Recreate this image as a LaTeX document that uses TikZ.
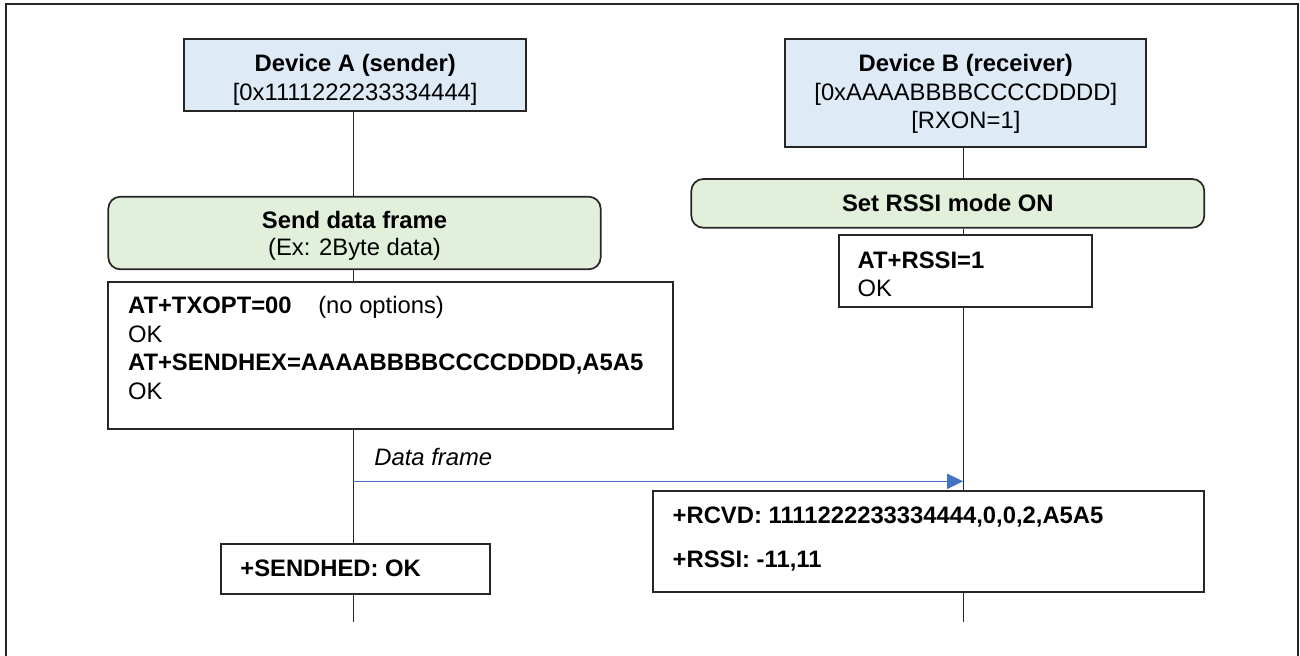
\documentclass[tikz,border=0pt]{standalone}
\usepackage{fontspec}
\setmainfont{Liberation Sans}
\usetikzlibrary{arrows.meta,fit}

\definecolor{devblue}{HTML}{DEEBF7}
\definecolor{stepgreen}{HTML}{E2EFDA}
\definecolor{msgblue}{HTML}{4472C4}
\definecolor{edge}{HTML}{262626}

\tikzset{
  box/.style      = {draw=edge, line width=0.85pt, inner sep=0pt},
  devbox/.style   = {box, fill=devblue},
  stepbox/.style  = {box, fill=stepgreen, rounded corners=6pt},
  cmdbox/.style   = {box, fill=white},
  txt/.style      = {inner sep=0pt, font=\fontsize{11.9}{14.2}\selectfont},
  life/.style     = {draw=edge, line width=0.75pt},
  msg/.style      = {draw=msgblue, line width=0.8pt, -{Triangle[length=8pt,width=7.5pt]}},
}

\begin{document}
\begin{tikzpicture}[x=0.5pt,y=-0.5pt]
  \useasboundingbox (0,0) rectangle (1300,655);
  \draw[edge, line width=1pt] (5.5,660) -- (5.5,4.3) -- (1298.3,4.3) -- (1298.3,660);

  % lifeline positions
  \coordinate (lifeA) at (353.3,0);
  \coordinate (lifeB) at (963.7,0);

  % boxes
  \node[devbox,  fit={(184.3,39) (526,111.3)}]      (devA)    {};
  \node[devbox,  fit={(785.3,39) (1146.3,147)}]     (devB)    {};
  \node[stepbox, fit={(108.3,196.7) (600.7,269.3)}] (sendA)   {};
  \node[stepbox, fit={(691.3,179) (1204.3,227.7)}]  (rssiOn)  {};
  \node[cmdbox,  fit={(108.3,281.7) (673.3,429.3)}] (cmdA)    {};
  \node[cmdbox,  fit={(839.3,235.3) (1092,307.3)}]  (cmdB)    {};
  \node[cmdbox,  fit={(220.7,543.7) (489.7,593.7)}] (sendhed) {};
  \node[cmdbox,  fit={(653,491.3) (1204.3,592)}]    (rcvd)    {};

  % texts (base = last line)
  \node[txt, anchor=base, align=center] (devAtxt) at (355.2,100)
    {\textbf{Device A (sender)}\\[-0.1pt][0x1111222233334444]};
  \node[txt, anchor=base, align=center] (devBtxt) at (965.8,128.3)
    {\textbf{Device B (receiver)}\\[-0.1pt][0xAAAABBBBCCCCDDDD]\\[-0.1pt][RXON=1]};
  \node[txt, anchor=base, align=center] (sendAtxt) at (354.5,255)
    {\textbf{Send data frame}\\[-0.9pt](Ex: 2Byte data)};
  \node[txt, anchor=base] (rssiOntxt) at (947.8,211.7) {\textbf{Set RSSI mode ON}};
  \node[txt, anchor=base west, align=left] (cmdAtxt) at (127.7,399.7)
    {\textbf{AT+TXOPT=00}\hspace{13.3pt}(no options)\\[0.2pt]OK\\[0.2pt]%
     \textbf{AT+SENDHEX=AAAABBBBCCCCDDDD,A5A5}\\[0.2pt]OK};
  \node[txt, anchor=base west, align=left] (cmdBtxt) at (857.3,296.7)
    {\textbf{AT+RSSI=1}\\OK};
  \node[txt, anchor=base west] (sendhedtxt) at (240,576) {\textbf{+SENDHED: OK}};
  \node[txt, anchor=base west, align=left] (rcvdtxt) at (672.3,567.7)
    {\textbf{+RCVD: 1111222233334444,0,0,2,A5A5}\\[7.8pt]\textbf{+RSSI: -11,11}};

  % lifelines
  \coordinate (endA) at (353.3,622);
  \coordinate (endB) at (963.7,622);
  \draw[life] (devA.south -| lifeA) -- (sendA.north -| lifeA);
  \draw[life] (sendA.south -| lifeA) -- (cmdA.north -| lifeA);
  \draw[life] (cmdA.south -| lifeA) -- (sendhed.north -| lifeA);
  \draw[life] (sendhed.south -| lifeA) -- (endA);
  \draw[life] (devB.south -| lifeB) -- (rssiOn.north -| lifeB);
  \draw[life] (rssiOn.south -| lifeB) -- (cmdB.north -| lifeB);
  \draw[life] (cmdB.south -| lifeB) -- (rcvd.north -| lifeB);
  \draw[life] (rcvd.south -| lifeB) -- (endB);

  % data frame message
  \coordinate (tx) at (353.3,481.3);
  \coordinate (rx) at (963.2,481.3);
  \draw[msg] (tx) -- (rx);
  \node[txt, anchor=base west] (msglabel) at (374,465) {\textit{Data frame}};
\end{tikzpicture}
\end{document}
